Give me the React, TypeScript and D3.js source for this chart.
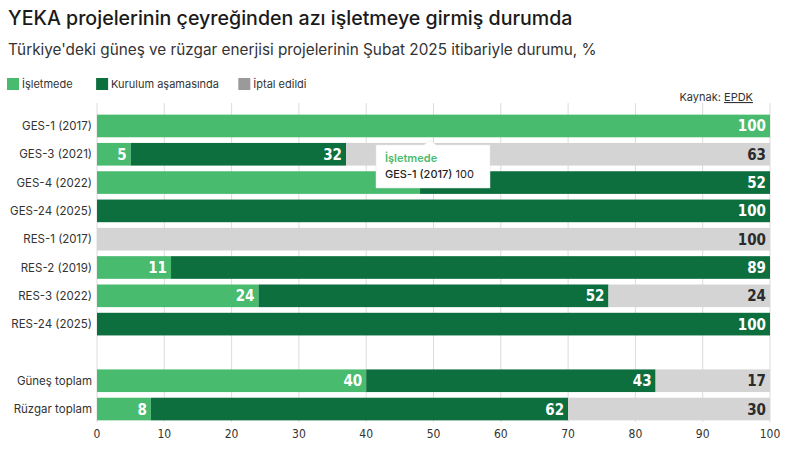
import React from "react";
import * as d3 from "d3";

const categories = [
  "GES-1 (2017)",
  "GES-3 (2021)",
  "GES-4 (2022)",
  "GES-24 (2025)",
  "RES-1 (2017)",
  "RES-2 (2019)",
  "RES-3 (2022)",
  "RES-24 (2025)",
  "",
  "Güneş toplam",
  "Rüzgar toplam",
];
const isletmede = [100, 5, 48, 0, 0, 11, 24, 0, null, 40, 8];
const kurulum = [0, 32, 52, 100, 0, 89, 52, 100, null, 43, 62];
const iptal = [0, 63, 0, 0, 100, 0, 24, 0, null, 17, 30];
const seriesNames = ["İşletmede", "Kurulum aşamasında", "İptal edildi"];
const legendLabels = ["İşletmede", "Kurulum aşamasında", "İptal edildi"];
const xTicks = [0, 10, 20, 30, 40, 50, 60, 70, 80, 90, 100];

const colors = ["#48bb6e", "#0d6e3e", "#d4d4d4"];
const legendColors = ["#48bb6e", "#0d6e3e", "#9a9a9a"];
const labelColors = ["#ffffff", "#ffffff", "#2b2b2b"];

const W = 800;
const H = 454;
const left = 97;
const right = 770;

const App: React.FC = () => {
  const x = d3.scaleLinear().domain([0, 100]).range([left, right]);
  const y = d3
    .scaleBand<string>()
    .domain(categories.map((c, i) => c || "blank" + i))
    .range([111.8, 423.2])
    .paddingInner(0.2)
    .paddingOuter(0.1);

  const rows = categories.map((c, i) => ({
    key: c || "blank" + i,
    name: c,
    values: [isletmede[i], kurulum[i], iptal[i]],
  }));

  const font = "Inter, 'Noto Sans', sans-serif";
  const numFont = "'DejaVu Sans Condensed', 'Liberation Sans Narrow', sans-serif";

  // the tooltip sits over the GES-4 işletmede label, so that one is not drawn
  const hidden = "GES-4 (2022)-0";
  const tipX = 376;
  const tipY = 145;

  return (
    <svg
      width={W}
      height={H}
      style={{ position: "absolute", left: 0, top: 0, background: "#fff" }}
      fontFamily={font}
    >
      <text x={8} y={25} fontSize={19.6} fontWeight={500} fill="#1a1a1a">
        YEKA projelerinin çeyreğinden azı işletmeye girmiş durumda
      </text>
      <text x={8} y={55} fontSize={15.3} fill="#333">
        Türkiye'deki güneş ve rüzgar enerjisi projelerinin Şubat 2025 itibariyle durumu, %
      </text>

      {/* legend */}
      {(() => {
        let cx = 7;
        return legendLabels.map((l, i) => {
          const gx = cx;
          cx += 14 + l.length * 5.9 + 22;
          return (
            <g key={l} transform={`translate(${gx},78)`}>
              <rect width={12} height={12} fill={legendColors[i]} />
              <text x={15} y={10} fontSize={11} fill="#333">
                {l}
              </text>
            </g>
          );
        });
      })()}

      <text x={753} y={101} fontSize={11} fill="#333" textAnchor="end">
        Kaynak: <tspan textDecoration="underline">EPDK</tspan>
      </text>

      {/* grid */}
      {xTicks.map((t) => (
        <line
          key={t}
          x1={x(t)}
          x2={x(t)}
          y1={103}
          y2={422}
          stroke="#dcdcdc"
          strokeWidth={1}
        />
      ))}

      {/* bars */}
      {rows.map((r) => {
        if (!r.name) return null;
        let acc = 0;
        const y0 = y(r.key)!;
        const bh = y.bandwidth();
        return (
          <g key={r.key}>
            {r.values.map((v, si) => {
              const start = acc;
              acc += v || 0;
              if (!v) return null;
              return (
                <rect
                  key={si}
                  x={x(start)}
                  y={y0}
                  width={x(start + v) - x(start)}
                  height={bh}
                  fill={colors[si]}
                >
                  <title>{seriesNames[si]}</title>
                </rect>
              );
            })}
            {(() => {
              let a = 0;
              return r.values.map((v, si) => {
                a += v || 0;
                if (!v || `${r.name}-${si}` === hidden) return null;
                return (
                  <text
                    key={"l" + si}
                    x={x(a) - 4}
                    y={y0 + bh / 2 + 5.5}
                    textAnchor="end"
                    fontFamily={numFont}
                    fontWeight="bold"
                    fontSize={15}
                    fill={labelColors[si]}
                  >
                    {v}
                  </text>
                );
              });
            })()}
            <text
              x={92}
              y={y0 + bh / 2 + 4}
              textAnchor="end"
              fontSize={11.5}
              fill="#333"
            >
              {r.name}
            </text>
          </g>
        );
      })}

      {/* x axis labels */}
      {xTicks.map((t) => (
        <text
          key={t}
          x={x(t)}
          y={438}
          fontSize={12}
          fontFamily={numFont}
          textAnchor="middle"
          fill="#333"
        >
          {t}
        </text>
      ))}

      {/* tooltip */}
      <g transform={`translate(${tipX},${tipY})`}>
        <path
          d="M0,0 H48 L54,-5 L60,0 H114 V43 H0 Z"
          fill="#fff"
          stroke="#e6e6e6"
          strokeWidth={0.5}
        />
        <text x={9} y={17} fontSize={11} fontWeight={600} fill="#48bb6e">
          İşletmede
        </text>
        <text x={9} y={33} fontSize={11} fill="#222">
          <tspan fontWeight={500}>GES-1 (2017)</tspan> 100
        </text>
      </g>
    </svg>
  );
};

export default App;
